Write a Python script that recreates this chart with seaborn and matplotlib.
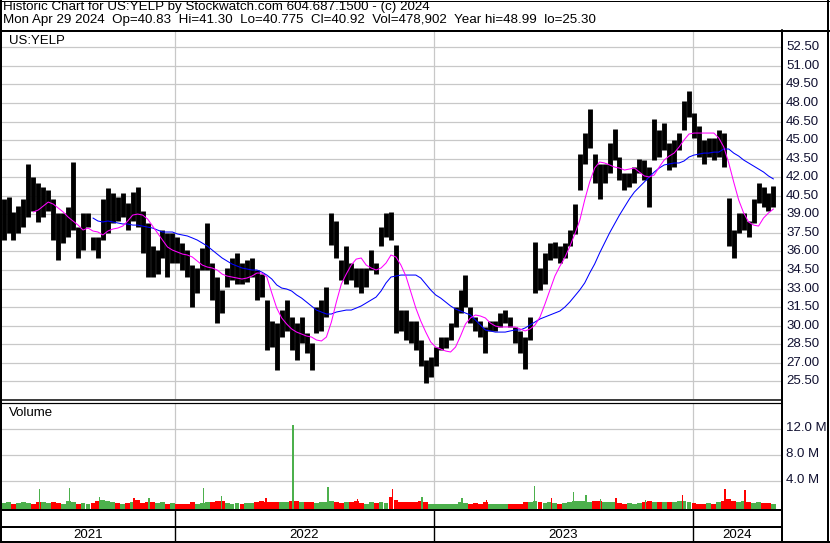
import numpy as np
import pandas as pd
import matplotlib
matplotlib.use("Agg")
import matplotlib.pyplot as plt
import matplotlib.dates as mdates
import seaborn as sns

# ---------------- data ----------------
header_line1 = "Historic Chart for US:YELP by Stockwatch.com 604.687.1500 - (c) 2024"
header_line2 = ("Mon Apr 29 2024  Op=40.83  Hi=41.30  Lo=40.775  Cl=40.92  "
                "Vol=478,902  Year hi=48.99  lo=25.30")
symbol = "US:YELP"

# weekly samples (mid-week dates)
week_dates = pd.date_range("2021-05-05", periods=156, freq="7D")

week_high = [40.2, 40.4, 39.2, 39.7, 40.2, 43.1, 42.0, 41.5, 41.2, 41.0,
             40.2, 39.1, 39.1, 39.6, 43.2, 38.0, 39.1, 39.1, 37.2, 37.2,
             40.2, 41.1, 40.7, 40.4, 40.7, 39.9, 40.8, 41.2, 39.3, 38.3,
             36.4, 36.1, 37.7, 37.5, 37.5, 37.2, 36.7, 36.1, 34.9, 34.7,
             36.3, 38.3, 35.1, 33.9, 32.9, 34.7, 35.5, 35.9, 35.1, 35.3,
             35.5, 34.5, 34.2, 32.1, 30.4, 30.2, 31.3, 32.1, 30.7, 30.2,
             30.7, 29.4, 28.6, 31.5, 32.1, 33.1, 39.1, 38.5, 35.3, 36.4,
             35.1, 34.7, 34.7, 34.7, 36.1, 35.1, 38.0, 39.1, 39.2, 36.5,
             31.3, 31.3, 30.4, 30.4, 28.8, 27.2, 27.5, 28.3, 29.1, 29.1,
             30.2, 31.5, 32.9, 34.1, 31.5, 30.7, 30.4, 29.9, 30.4, 30.4,
             31.0, 31.3, 30.7, 29.9, 29.6, 29.1, 30.7, 36.8, 34.7, 35.9,
             36.7, 36.8, 36.4, 36.7, 37.7, 39.8, 43.9, 45.6, 47.5, 43.9,
             43.1, 43.1, 44.8, 45.9, 43.6, 42.3, 42.3, 42.8, 43.5, 43.4,
             42.8, 46.7, 45.8, 46.4, 44.8, 45.0, 45.6, 48.2, 48.99, 47.2,
             46.1, 45.0, 45.2, 45.2, 45.8, 45.6, 40.3, 37.7, 39.1, 39.1,
             38.5, 40.2, 41.5, 41.2, 40.7, 41.3]

week_low = [36.9, 37.5, 36.9, 37.5, 38.0, 38.8, 39.3, 38.4, 38.8, 39.3,
            36.9, 35.3, 36.7, 37.2, 37.7, 35.5, 36.1, 38.0, 36.1, 35.5,
            36.9, 37.5, 38.3, 38.5, 38.8, 37.7, 38.5, 38.0, 35.9, 33.9,
            33.9, 34.2, 35.5, 33.9, 35.1, 35.1, 34.5, 33.9, 31.5, 32.6,
            34.5, 34.5, 32.1, 30.2, 31.0, 33.1, 33.7, 33.4, 33.4, 33.5,
            33.9, 32.1, 32.3, 28.0, 28.3, 26.4, 29.1, 29.6, 28.0, 27.2,
            28.6, 27.8, 26.4, 29.4, 29.6, 30.7, 36.5, 35.5, 33.7, 33.4,
            33.7, 33.1, 32.6, 33.1, 34.5, 34.2, 36.4, 37.2, 36.9, 29.4,
            29.6, 28.8, 28.6, 28.0, 26.7, 25.35, 25.85, 26.7, 28.0, 28.2,
            28.8, 29.9, 31.0, 31.5, 30.2, 29.6, 29.1, 27.8, 29.6, 29.6,
            29.9, 30.2, 29.9, 28.6, 27.8, 26.5, 28.8, 32.6, 32.9, 33.4,
            35.3, 35.5, 35.1, 35.5, 36.4, 37.4, 41.0, 43.1, 44.4, 41.5,
            40.2, 41.5, 42.3, 43.4, 41.8, 41.0, 41.2, 41.5, 42.3, 41.8,
            39.6, 43.4, 43.6, 44.2, 42.6, 42.8, 44.2, 45.8, 46.9, 45.2,
            43.6, 43.1, 43.6, 43.4, 43.6, 42.8, 36.4, 35.5, 37.5, 37.7,
            37.2, 38.3, 39.9, 39.6, 39.3, 39.6]

nan = float("nan")
ma_fast = [nan] * 6 + [
    39.19, 39.35, 39.67, 39.99, 39.83, 39.51, 39.19, 38.78, 38.46, 38.13,
    37.73, 37.89, 37.65, 37.57, 37.33, 37.65, 37.81, 37.89, 38.05, 38.46,
    38.94, 39.02, 38.94, 38.62, 38.05, 37.49, 36.92, 36.36, 36.11, 35.95,
    35.79, 35.71, 35.55, 35.22, 34.90, 34.74, 34.66, 34.50, 34.17, 34.01,
    33.93, 33.85, 33.77, 33.85, 34.01, 34.25, 34.25, 33.93, 32.64, 31.42,
    30.62, 30.13, 29.73, 29.48, 29.32, 29.16, 29.08, 28.84, 28.76, 29.08,
    30.29, 31.91, 33.36, 34.17, 34.90, 35.38, 35.47, 34.90, 34.66, 34.50,
    34.66, 35.06, 35.71, 35.55, 34.90, 34.01, 32.72, 31.42, 30.37, 29.48,
    28.68, 28.27, 28.11, 27.95, 27.87, 28.27, 29.16, 30.13, 30.62, 30.86,
    30.78, 30.62, 30.21, 29.97, 29.89, 29.89, 29.89, 29.89, 29.73, 29.57,
    29.73, 30.05, 30.70, 31.75, 32.88, 34.01, 34.80, 35.50, 36.40, 37.40,
    38.50, 40.16, 41.61, 42.74, 43.23, 43.15, 42.99, 42.82, 42.74, 42.58,
    42.66, 42.74, 42.42, 42.10, 42.02, 42.18, 42.82, 43.39, 43.71, 43.95,
    44.44, 45.01, 45.49, 45.57, 45.57, 45.57, 45.57, 45.57, 45.17, 44.44,
    43.15, 41.61, 40.16, 39.11, 38.38, 38.13, 38.05, 38.70, 39.11, 39.43]

ma_slow = [nan] * 18 + [
    38.70, 38.46, 38.38, 38.46, 38.38, 38.30, 38.22, 38.22, 38.13, 38.13,
    38.05, 37.97, 37.89, 37.73, 37.57, 37.57, 37.57, 37.41, 37.33, 37.25,
    37.09, 36.92, 36.68, 36.44, 36.11, 35.79, 35.47, 35.22, 34.98, 34.82,
    34.66, 34.58, 34.50, 34.50, 34.33, 34.09, 33.77, 33.29, 33.04, 32.96,
    32.80, 32.48, 32.23, 31.91, 31.59, 31.26, 31.10, 30.94, 30.94, 31.10,
    31.18, 31.26, 31.26, 31.42, 31.59, 31.83, 32.07, 32.31, 32.80, 33.45,
    33.93, 34.01, 34.09, 34.09, 34.09, 34.09, 33.85, 33.36, 32.88, 32.48,
    32.23, 31.91, 31.59, 31.34, 31.18, 31.02, 30.86, 30.45, 30.05, 29.65,
    29.57, 29.48, 29.48, 29.48, 29.57, 29.65, 29.65, 29.81, 30.05, 30.29,
    30.54, 30.70, 30.86, 31.02, 31.18, 31.50, 31.91, 32.40, 32.88, 33.45,
    34.25, 34.98, 35.87, 36.68, 37.49, 38.22, 38.94, 39.59, 40.24, 40.80,
    41.21, 41.61, 42.02, 42.42, 42.74, 42.99, 43.07, 43.15, 43.15, 43.31,
    43.63, 43.79, 43.87, 43.95, 43.95, 44.03, 44.03, 44.28, 44.28, 43.95,
    43.71, 43.39, 43.15, 42.91, 42.66, 42.42, 42.10, 41.86]

# typical daily volume per week (millions)
week_volume = [0.5, 0.7, 0.4, 0.5, 0.6, 0.5, 0.4, 0.6, 0.6, 0.5,
               0.7, 0.5, 0.4, 0.9, 0.6, 0.4, 0.5, 0.4, 0.5, 0.8,
               1.0, 0.8, 0.6, 0.5, 0.4, 0.5, 0.6, 1.0, 0.5, 0.6,
               0.7, 0.5, 0.6, 0.4, 0.5, 0.3, 0.3, 0.4, 0.6, 0.3,
               0.5, 0.6, 0.7, 0.9, 0.8, 0.5, 0.4, 0.5, 0.4, 0.5,
               0.5, 0.6, 0.9, 0.7, 0.6, 0.6, 0.7, 0.6, 0.9, 0.9,
               0.7, 0.6, 0.7, 0.5, 0.6, 0.7, 0.8, 0.6, 0.5, 0.6,
               0.7, 0.9, 0.5, 0.4, 0.6, 0.5, 0.6, 0.5, 1.4, 1.0,
               0.7, 0.6, 0.6, 0.7, 0.8, 0.7, 0.4, 0.3, 0.4, 0.3,
               0.4, 0.4, 0.6, 0.5, 0.4, 0.5, 0.4, 0.6, 0.3, 0.3,
               0.4, 0.3, 0.4, 0.3, 0.4, 0.6, 0.7, 0.9, 0.6, 0.5,
               0.7, 0.5, 0.4, 0.5, 0.6, 0.8, 0.9, 0.8, 0.7, 0.9,
               0.8, 0.6, 0.7, 0.6, 0.5, 0.4, 0.5, 0.4, 0.5, 0.7,
               0.8, 0.7, 0.6, 0.6, 0.7, 0.6, 0.9, 0.8, 0.7, 0.5,
               0.4, 0.4, 0.5, 0.4, 0.7, 0.8, 1.1, 0.9, 0.7, 0.8,
               0.6, 0.5, 0.6, 0.5, 0.5, 0.4]

# single-day volume spikes (millions)
spike_dates = ["2021-06-25", "2021-08-06", "2021-09-17", "2021-11-05", "2021-11-26",
               "2022-02-11", "2022-03-08", "2022-05-10", "2022-06-17", "2022-08-05",
               "2022-09-16", "2022-11-04", "2022-12-16", "2023-02-10", "2023-03-17",
               "2023-05-23", "2023-06-16", "2023-07-17", "2023-08-04", "2023-08-24",
               "2023-09-15", "2023-10-27", "2023-12-18", "2024-02-16", "2024-03-15"]
spike_volume = [2.66, 2.82, 1.43, 1.28, 1.28,
                2.82, 1.63, 1.28, 12.66, 2.97,
                1.12, 2.66, 1.48, 1.23, 0.92,
                3.17, 1.33, 2.2, 1.79, 1.17,
                1.33, 0.97, 1.74, 2.66, 2.51]
spike_updown = "gggrgggrggrrggrgrgggrgrrr"

price_ticks = [25.5, 27.0, 28.5, 30.0, 31.5, 33.0, 34.5, 36.0, 37.5, 39.0,
               40.5, 42.0, 43.5, 45.0, 46.5, 48.0, 49.5, 51.0, 52.5]
volume_ticks = [4.0, 8.0, 12.0]
year_labels = ["2021", "2022", "2023", "2024"]
year_starts = ["2022-01-01", "2023-01-01", "2024-01-01"]

# ---------------- style ----------------
sns.set_style("white")
plt.rcParams['font.family'] = ['Liberation Sans', 'DejaVu Sans']
FS = 9.5
FS_HEAD = 9.6
GREEN = "#4cb04c"
RED = "#ff0000"
GRID = "#c8c8c8"

W, H = 830, 543
fig = plt.figure(figsize=(W / 100, H / 100), dpi=100)


def rect(x0, y0, x1, y1):
    return [x0 / W, 1 - y1 / H, (x1 - x0) / W, (y1 - y0) / H]


t0 = mdates.date2num(pd.Timestamp("2021-04-30"))
PX_PER_DAY = 259 / 365.0


def xnum(px):
    return t0 + px / PX_PER_DAY


XL = (xnum(2), xnum(781))
dates_num = mdates.date2num(week_dates)
year_nums = mdates.date2num(pd.to_datetime(year_starts))


def clean(a):
    a.set_xticks([])
    a.set_yticks([])
    for s in a.spines.values():
        s.set_visible(False)
    a.set_facecolor("white")


# ---------------- price panel ----------------
ax = fig.add_axes(rect(2, 31, 781, 399))
clean(ax)
ax.set_xlim(*XL)
ax.set_ylim(24.07, 53.82)
for p in price_ticks:
    ax.axhline(p, color=GRID, lw=0.9, zorder=0)
for yn in year_nums:
    ax.axvline(yn, color=GRID, lw=0.9, zorder=0)

ax.vlines(dates_num, week_low, week_high, color="black", lw=3.5, zorder=3)

df = pd.DataFrame({"d": dates_num, "fast": ma_fast, "slow": ma_slow})
sns.lineplot(data=df, x="d", y="slow", ax=ax, color="#0000ff", lw=0.75, zorder=4)
sns.lineplot(data=df, x="d", y="fast", ax=ax, color="#ff00ff", lw=0.75, zorder=5)
ax.set_xlabel("")
ax.set_ylabel("")
ax.set_xticks([])
ax.set_yticks([])
ax.set_xlim(*XL)
ax.set_ylim(24.07, 53.82)

# ---------------- volume panel ----------------
VB = -0.49
axv = fig.add_axes(rect(2, 403, 781, 509.5))
clean(axv)
axv.set_xlim(*XL)
axv.set_ylim(VB, 16.05)
for v in volume_ticks:
    axv.axhline(v, color=GRID, lw=0.9, zorder=0)
for yn in year_nums:
    axv.axvline(yn, color=GRID, lw=0.9, zorder=0)

mid = (np.array(week_high) + np.array(week_low)) / 2
wk_colors = [GREEN if i == 0 or mid[i] >= mid[i - 1] else RED for i in range(len(mid))]
axv.bar(dates_num, np.array(week_volume) - VB, bottom=VB, width=6.9,
        color=wk_colors, linewidth=0, zorder=2)
sp_num = mdates.date2num(pd.to_datetime(spike_dates))
sp_col = [GREEN if c == "g" else RED for c in spike_updown]
axv.bar(sp_num, np.array(spike_volume) - VB, bottom=VB, width=2.0,
        color=sp_col, linewidth=0, zorder=3)

# ---------------- frame, labels (pixel overlay) ----------------
ov = fig.add_axes([0, 0, 1, 1], zorder=10)
ov.set_xlim(0, W)
ov.set_ylim(H, 0)
ov.axis("off")
ov.patch.set_alpha(0)

K = "black"
px = 0.72
ov.plot([1, 1], [0, 542], color=K, lw=2 * px)
ov.plot([0, W], [0.5, 0.5], color=K, lw=1 * px)
ov.plot([828, 828], [0, 542], color=K, lw=2 * px)
ov.plot([0, W], [541.5, 541.5], color=K, lw=2 * px)
ov.plot([0, W], [30.5, 30.5], color=K, lw=2 * px)
ov.plot([781.5, 781.5], [30, 542], color=K, lw=2 * px)
ov.plot([0, 781.5], [400.3, 400.3], color=K, lw=1.5 * px)
ov.plot([0, 781.5], [402.8, 402.8], color=K, lw=1.2 * px)
ov.plot([0, 781.5], [510.3, 510.3], color=K, lw=2 * px)
ov.plot([0, 781.5], [527.0, 527.0], color=K, lw=2 * px)
for xp in [175, 434, 693]:
    ov.plot([xp, xp], [510, 541], color=K, lw=1.4 * px)

ov.text(3, 7.3, header_line1, fontsize=FS_HEAD, ha="left", va="center", color=K)
ov.text(3, 20.3, header_line2, fontsize=FS_HEAD, ha="left", va="center", color=K)
ov.text(9, 41, symbol, fontsize=FS, ha="left", va="center", color=K)
ov.text(9, 413, "Volume", fontsize=FS, ha="left", va="center", color=K)


def ypx_price(p):
    return 47.3 + (52.5 - p) * 12.37


for p in price_ticks:
    ov.text(786, ypx_price(p), f"{p:.2f}", fontsize=FS, ha="left", va="center",
            color="#101030")
for v in volume_ticks:
    ov.text(786, 506.3 - v * 6.5, f"{v:.1f} M", fontsize=FS, ha="left",
            va="center", color="#101030")

for lab, xc in zip(year_labels, [88, 304, 563, 737]):
    ov.text(xc, 534.5, lab, fontsize=FS, ha="center", va="center", color=K)

fig.savefig("out.png", dpi=100)
